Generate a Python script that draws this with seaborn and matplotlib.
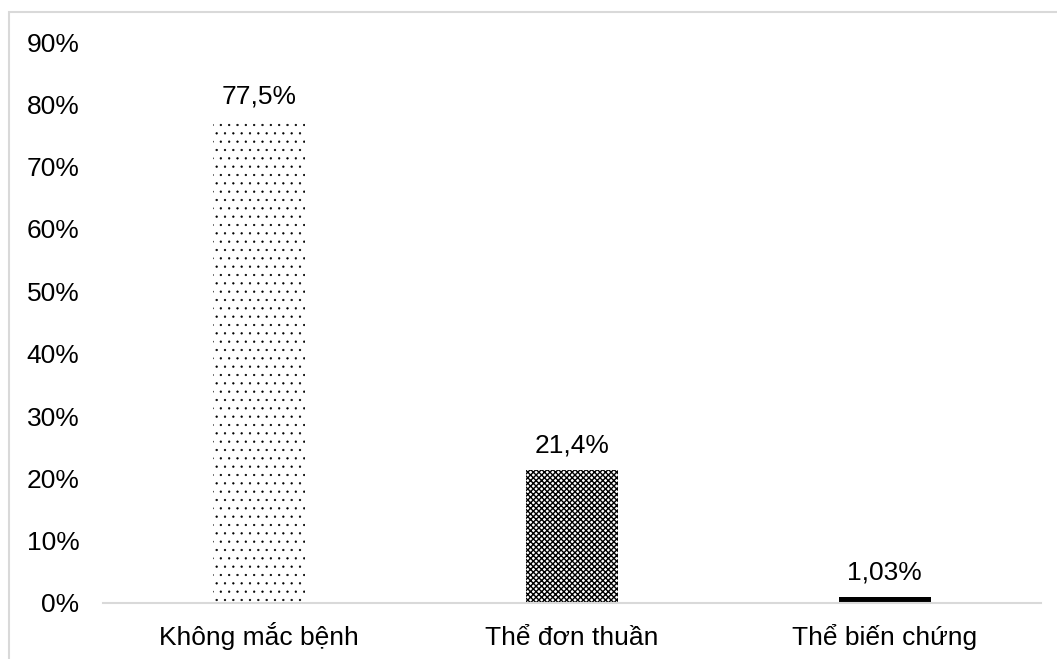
import matplotlib
matplotlib.use("Agg")
import matplotlib.pyplot as plt
import seaborn as sns
import pandas as pd
from matplotlib.patches import Rectangle
from matplotlib.ticker import FuncFormatter

categories = ["Không mắc bệnh", "Thể đơn thuần", "Thể biến chứng"]
values = [77.5, 21.4, 1.03]
value_labels = ["77,5%", "21,4%", "1,03%"]
hatches = ["..", "xxxxxx", None]
hatch_widths = [0.4, 1.0, 1.0]
faces = ["white", "white", "black"]

sns.set_theme(style="white")
plt.rcParams["font.family"] = ["Liberation Sans", "DejaVu Sans"]
plt.rcParams["hatch.linewidth"] = 1.0

df = pd.DataFrame({"category": categories, "value": values})

fig = plt.figure(figsize=(10.57, 6.59), dpi=100)
ax = fig.add_axes([103 / 1057, 1 - 603 / 659, (1041 - 103) / 1057, (603 - 42) / 659])

sns.barplot(data=df, x="category", y="value", ax=ax, width=0.295,
            color="white", edgecolor="none", linewidth=0)

for bar, h, hw, fc in zip(ax.patches, hatches, hatch_widths, faces):
    bar.set_facecolor(fc)
    if h:
        bar.set_hatch(h)
        bar.set_edgecolor("black")
        bar.set_linewidth(0)
        try:
            bar.set_hatch_linewidth(hw)
        except AttributeError:
            pass

for bar, lab in zip(ax.patches, value_labels):
    ax.annotate(lab, (bar.get_x() + bar.get_width() / 2, bar.get_height()),
                xytext=(0, 12), textcoords="offset points",
                ha="center", va="baseline", fontsize=19, color="black")

ax.set_ylim(0, 90)
ax.set_yticks(range(0, 91, 10))
ax.yaxis.set_major_formatter(FuncFormatter(lambda v, _: f"{int(v)}%"))
ax.set_xlim(-0.5, 2.5)
ax.set_xlabel("")
ax.set_ylabel("")
ax.tick_params(axis="both", length=0, labelsize=19, colors="black")
ax.tick_params(axis="y", pad=17)
ax.tick_params(axis="x", pad=30)
for t in ax.get_xticklabels():
    t.set_verticalalignment("baseline")

for side in ["top", "right", "left"]:
    ax.spines[side].set_visible(False)
ax.spines["bottom"].set_color("#d9d9d9")
ax.spines["bottom"].set_linewidth(1.5)
ax.grid(False)

# chart area frame
fig.patches.append(Rectangle((9 / 1057, -0.05), 1.1, 1 - 12 / 659 + 0.05,
                             transform=fig.transFigure, fill=False,
                             edgecolor="#d9d9d9", linewidth=1.5))

fig.savefig("out.png", dpi=100)
